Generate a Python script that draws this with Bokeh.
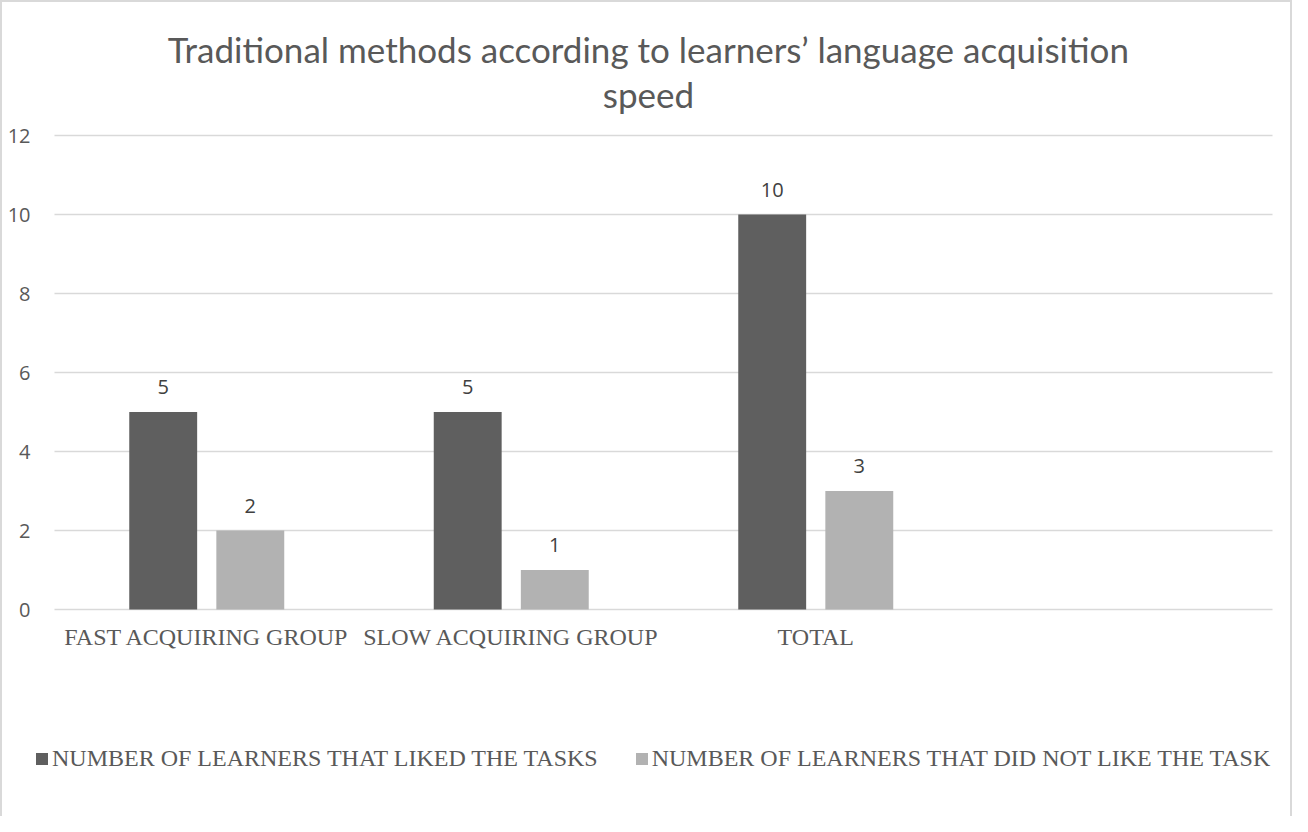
from bokeh.plotting import figure
from bokeh.models import (Range1d, ColumnDataSource, Legend, LegendItem, Label, LabelSet)
from bokeh.transform import dodge
from bokeh.embed import file_html
from bokeh.resources import INLINE
from bokeh.core.properties import value

# ---- data ----
categories = ["FAST ACQUIRING GROUP", "SLOW ACQUIRING GROUP", "TOTAL"]
liked = [5, 5, 10]
disliked = [2, 1, 3]
series_names = ["NUMBER OF LEARNERS THAT LIKED THE TASKS",
                "NUMBER OF LEARNERS THAT DID NOT LIKE THE TASK"]
y_ticks = [0, 2, 4, 6, 8, 10, 12]
y_tick_labels = [str(t) for t in y_ticks]
title_lines = ["Traditional methods according to learners\u2019 language acquisition",
               "speed"]
n_slots = 4  # the original chart reserves an empty fourth category slot

# ---- styles / geometry (pixels) ----
DARK = "#5f5f5f"
LIGHT = "#b2b2b2"
GRID = "#d9d9d9"
TXT = "#595959"
LBL = "#404040"
BAR_W = 0.223
OFF = 0.143

W, H = 1292, 816
LEFT, RIGHT, TOP, BOTTOM = 2, 4, 2, 4      # frame covers nearly the whole canvas
SLOT_PX = 304.5                            # width of one category slot
GRID_LEFT_PX = 52                          # left end of the plot area
PPU = 39.5                                 # px per y unit
ZERO_PX = 607                              # y = 0 line, px from top
TITLE_BASELINES = (46, 91)                 # px from top
frame_w = W - LEFT - RIGHT
x_start = -0.5 - (GRID_LEFT_PX - LEFT) / SLOT_PX
x_end = x_start + frame_w / SLOT_PX
y_end = (ZERO_PX - TOP) / PPU
y_start = -((H - BOTTOM) - ZERO_PX) / PPU

idx = list(range(len(categories)))
source = ColumnDataSource(dict(
    x=idx,
    base=[0] * len(idx),
    cat=categories,
    liked=liked,
    disliked=disliked,
    liked_txt=[str(v) for v in liked],
    disliked_txt=[str(v) for v in disliked],
))
tick_src = ColumnDataSource(dict(y=y_ticks, txt=y_tick_labels,
                                 x0=[-0.5] * len(y_ticks),
                                 x1=[n_slots - 0.5] * len(y_ticks)))

p = figure(width=W, height=H, output_backend="svg", toolbar_location=None,
           x_range=Range1d(x_start, x_end), y_range=Range1d(y_start, y_end),
           x_axis_location=None, y_axis_location=None,
           min_border_left=LEFT, min_border_right=RIGHT, min_border_top=TOP,
           min_border_bottom=BOTTOM,
           styles={"box-sizing": "border-box", "border-top": "2px solid #d9d9d9",
                   "border-left": "2px solid #d9d9d9", "border-right": "2px solid #d9d9d9"})
p.outline_line_color = None
p.background_fill_color = "white"
p.border_fill_color = "white"
p.grid.visible = False
p.grid.grid_line_color = None

# horizontal gridlines at the tick values across the category slots
p.segment(x0="x0", x1="x1", y0="y", y1="y", source=tick_src,
          line_color=GRID, line_width=1.5)

# value-axis tick labels
p.add_layout(LabelSet(x="x0", y="y", text="txt", source=tick_src, x_offset=-24,
                      text_align="right", text_baseline="middle",
                      text_font=value("Open Sans"), text_font_size="20px",
                      text_color=TXT))

r1 = p.vbar(x=dodge("x", -OFF, range=p.x_range), top="liked", width=BAR_W,
            source=source, fill_color=DARK, line_color=None)
r2 = p.vbar(x=dodge("x", OFF, range=p.x_range), top="disliked", width=BAR_W,
            source=source, fill_color=LIGHT, line_color=None)

for col, off in (("liked", -OFF), ("disliked", OFF)):
    p.add_layout(LabelSet(x=dodge("x", off, range=p.x_range), y=col, text=col + "_txt",
                          source=source, text_align="center", text_baseline="middle",
                          y_offset=25, text_font=value("Open Sans"),
                          text_font_size="20px", text_color=LBL))

# category labels under the zero line
p.add_layout(LabelSet(x="x", y="base", text="cat", source=source,
                      text_align="center", text_baseline="middle", y_offset=-27,
                      text_font=value("Liberation Serif"), text_font_size="24px",
                      text_color=TXT))

# two-line title, centred on the canvas
for line, baseline_px in zip(title_lines, TITLE_BASELINES):
    p.add_layout(Label(x=W / 2 - LEFT, y=(H - BOTTOM) - baseline_px,
                       x_units="screen", y_units="screen", text=line,
                       text_align="center", text_baseline="alphabetic",
                       text_font="Lato", text_font_size="35px", text_color=TXT))

legend = Legend(items=[LegendItem(label=series_names[0], renderers=[r1]),
                       LegendItem(label=series_names[1], renderers=[r2])],
                orientation="horizontal", location=(30, 42),
                glyph_width=15, glyph_height=15, label_standoff=3, spacing=36,
                padding=0, margin=0, border_line_color=None,
                background_fill_alpha=0,
                label_text_font="Liberation Serif", label_text_font_size="24px",
                label_text_color=TXT)
p.add_layout(legend, "center")

open("out.html", "w").write(file_html(p, INLINE))
